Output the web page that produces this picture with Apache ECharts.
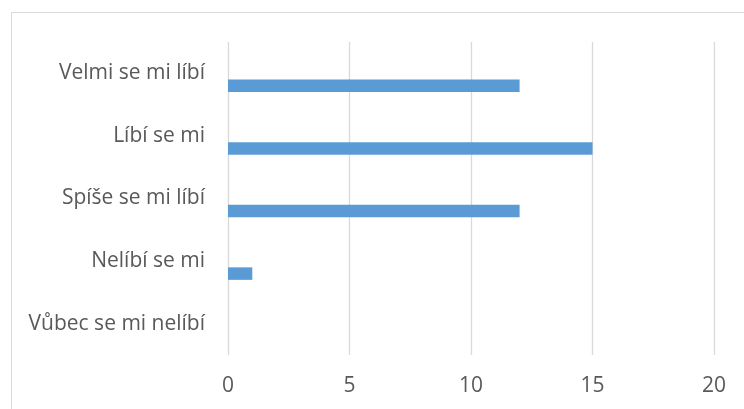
<!DOCTYPE html>
<html>
<head>
<meta charset="utf-8">
<script src="https://cdn.jsdelivr.net/npm/echarts@6/dist/echarts.min.js"></script>
<style>
  html, body { margin: 0; padding: 0; background: #fff; }
  #chart { width: 744px; height: 409px; }
</style>
</head>
<body>
<div id="chart"></div>
<script>
// Survey answers, listed bottom to top as they appear on the axis
const categories = ['Vůbec se mi nelíbí', 'Nelíbí se mi', 'Spíše se mi líbí', 'Líbí se mi', 'Velmi se mi líbí'];
const counts = [0, 1, 12, 15, 12];
// Empty companion series keeps the bars in the lower half of each band
const spacerCounts = [];
const xTicks = { min: 0, max: 20, interval: 5 };

const chart = echarts.init(document.getElementById('chart'), null, { renderer: 'canvas' });

const textColor = '#595959';
const gridColor = '#d9d9d9';
const font = 'Open Sans';

chart.setOption({
  animation: false,
  backgroundColor: '#ffffff',
  graphic: [{
    type: 'rect',
    shape: { x: 11.5, y: 12.5, width: 740, height: 400 },
    style: { fill: 'none', stroke: gridColor, lineWidth: 1 },
    silent: true
  }],
  grid: { left: 228, right: 30, top: 42, bottom: 54, containLabel: false },
  xAxis: {
    type: 'value',
    min: xTicks.min,
    max: xTicks.max,
    interval: xTicks.interval,
    axisLine: { show: false },
    axisTick: { show: false },
    splitLine: { show: true, lineStyle: { color: gridColor, width: 1.3 } },
    axisLabel: { color: textColor, fontFamily: font, fontSize: 21, margin: 21 }
  },
  yAxis: {
    type: 'category',
    data: categories,
    axisLine: { show: false },
    axisTick: { show: false },
    splitLine: { show: false },
    axisLabel: { color: textColor, fontFamily: font, fontSize: 21, margin: 23 }
  },
  series: [
    {
      type: 'bar',
      data: spacerCounts,
      barWidth: 12.5,
      barGap: '100%',
      itemStyle: { color: '#ed7d31' }
    },
    {
      type: 'bar',
      data: counts,
      barWidth: 12.5,
      barGap: '100%',
      itemStyle: { color: '#5b9bd5' }
    }
  ]
});
</script>
</body>
</html>
